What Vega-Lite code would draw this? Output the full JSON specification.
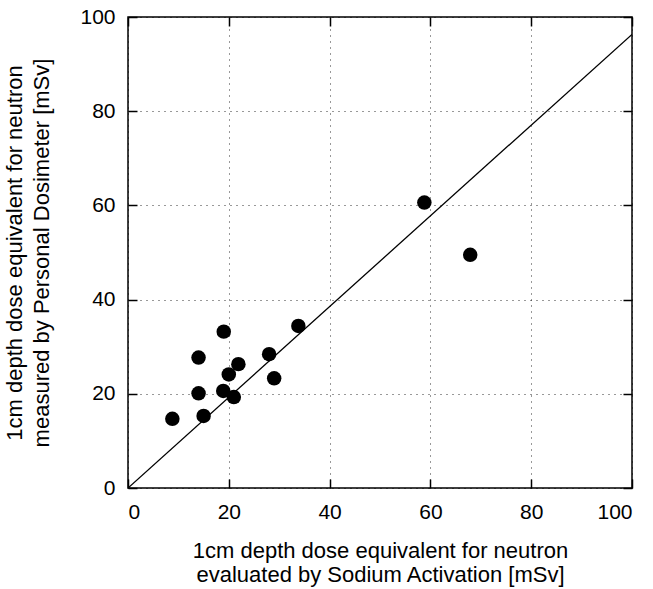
{
  "$schema": "https://vega.github.io/schema/vega-lite/v6.json",
  "autosize": "none",
  "width": 504,
  "height": 471,
  "padding": {"left": 128, "top": 17, "right": 21, "bottom": 101},
  "background": "white",
  "config": {
    "view": {"stroke": "black", "strokeWidth": 1.5},
    "axis": {
      "labelFont": "Liberation Sans",
      "titleFont": "Liberation Sans",
      "labelFontSize": 21,
      "titleFontSize": 22,
      "labelColor": "black",
      "titleColor": "black",
      "titleFontWeight": "normal",
      "domain": false,
      "tickColor": "black",
      "tickWidth": 1.5,
      "gridColor": "black",
      "gridDash": [1, 5],
      "gridWidth": 1,
      "gridOpacity": 0.8
    }
  },
  "datasets": {
    "pts": [
      {"sodium": 8.8, "dosimeter": 14.7},
      {"sodium": 14.0, "dosimeter": 27.7},
      {"sodium": 14.0, "dosimeter": 20.1},
      {"sodium": 15.0, "dosimeter": 15.3},
      {"sodium": 19.0, "dosimeter": 33.2},
      {"sodium": 18.9, "dosimeter": 20.6},
      {"sodium": 20.0, "dosimeter": 24.1},
      {"sodium": 21.0, "dosimeter": 19.3},
      {"sodium": 21.9, "dosimeter": 26.3},
      {"sodium": 28.0, "dosimeter": 28.4},
      {"sodium": 29.0, "dosimeter": 23.3},
      {"sodium": 33.8, "dosimeter": 34.4},
      {"sodium": 58.8, "dosimeter": 60.6},
      {"sodium": 67.9, "dosimeter": 49.5}
    ],
    "fit": [
      {"sodium": 0, "dosimeter": 0},
      {"sodium": 100, "dosimeter": 96.3}
    ]
  },
  "layer": [
    {
      "data": {"name": "fit"},
      "mark": {"type": "line", "color": "black", "strokeWidth": 1.3, "clip": true},
      "encoding": {
        "x": {
          "field": "sodium", "type": "quantitative",
          "scale": {"domain": [0, 100], "nice": false},
          "axis": {
            "orient": "bottom",
            "values": [0, 20, 40, 60, 80, 100],
            "tickSize": -9,
            "labelPadding": 22,
            "grid": true,
            "title": ["1cm depth dose equivalent for neutron", "evaluated by Sodium Activation [mSv]"],
            "titlePadding": 18,
            "titleLineHeight": 24
          }
        },
        "y": {
          "field": "dosimeter", "type": "quantitative",
          "scale": {"domain": [0, 100], "nice": false},
          "axis": {
            "orient": "left",
            "values": [0, 20, 40, 60, 80, 100],
            "tickSize": -9,
            "labelPadding": 22,
            "grid": true,
            "title": ["1cm depth dose equivalent for neutron", "measured by Personal Dosimeter [mSv]"],
            "titlePadding": 26,
            "titleLineHeight": 27
          }
        }
      }
    },
    {
      "data": {"name": "pts"},
      "mark": {"type": "circle", "color": "black", "opacity": 1, "size": 210},
      "encoding": {
        "x": {
          "field": "sodium", "type": "quantitative",
          "scale": {"domain": [0, 100], "nice": false},
          "axis": {
            "orient": "top",
            "values": [0, 20, 40, 60, 80, 100],
            "tickSize": -9,
            "labels": false,
            "grid": false,
            "title": null
          }
        },
        "y": {
          "field": "dosimeter", "type": "quantitative",
          "scale": {"domain": [0, 100], "nice": false},
          "axis": {
            "orient": "right",
            "values": [0, 20, 40, 60, 80, 100],
            "tickSize": -9,
            "labels": false,
            "grid": false,
            "title": null
          }
        }
      }
    }
  ],
  "resolve": {"axis": {"x": "independent", "y": "independent"}}
}
